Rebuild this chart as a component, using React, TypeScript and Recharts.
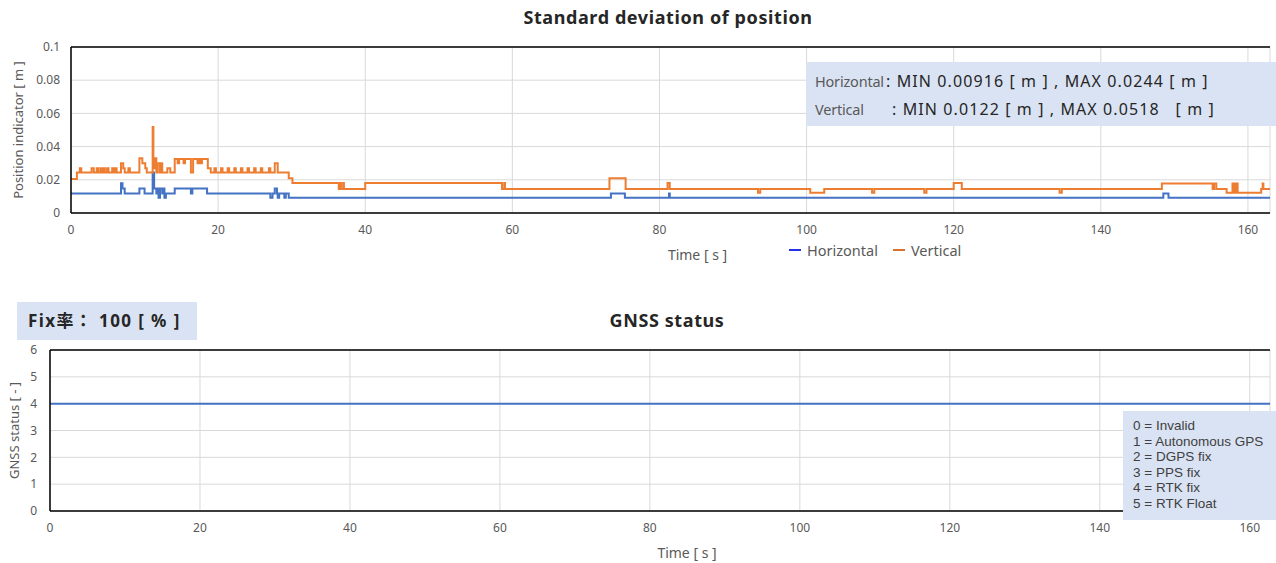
import { CartesianGrid, Line, LineChart, ReferenceLine, XAxis, YAxis } from "recharts";

const FONT = '"Noto Sans", "Noto Sans CJK JP", sans-serif';
const AXIS_TEXT = "#595959";
const GRID = "#d9d9d9";
const FRAME = "#000";
const BLUE = "#4472C4";
const ORANGE = "#ED7D31";
const BOX = "#DAE3F3";

const TIME_TICKS = [0, 20, 40, 60, 80, 100, 120, 140, 160];
const SD_TICKS = [0, 0.02, 0.04, 0.06, 0.08, 0.1];
const STATUS_TICKS = [0, 1, 2, 3, 4, 5, 6];
const STATUS_CODES = [
  "0 = Invalid",
  "1 = Autonomous GPS",
  "2 = DGPS fix",
  "3 = PPS fix",
  "4 = RTK fix",
  "5 = RTK Float",
];
const SERIES_KEYS = [
  { name: "Horizontal", color: "#2233e6" },
  { name: "Vertical", color: "#d9722e" },
];

// [time s, std dev m] — value holds until the next point
const horizontalSteps: [number, number][] = [
  [0, 0.0117], [6.8, 0.0179], [7.0, 0.0147], [7.3, 0.0117], [9.3, 0.0147], [10.0, 0.0117],
  [11.1, 0.0244], [11.3, 0.0147], [11.6, 0.0117], [11.7, 0.0147], [11.9, 0.00916], [12.1, 0.0147],
  [12.4, 0.0117], [12.5, 0.0147], [12.7, 0.00916], [12.9, 0.0117], [14.1, 0.0147], [16.3, 0.0117],
  [16.5, 0.0147], [18.5, 0.0117], [27.1, 0.00916], [27.4, 0.0117], [27.7, 0.0147], [28.0, 0.0117],
  [28.1, 0.00916], [28.3, 0.0117], [29.0, 0.00916], [29.2, 0.0117], [29.6, 0.00916], [73.4, 0.0117],
  [75.3, 0.00916], [81.3, 0.0117], [81.4, 0.00916], [148.5, 0.0117], [149.2, 0.00916], [163, 0.00916],
];

const verticalSteps: [number, number][] = [
  [0, 0.0205], [0.8, 0.0244], [1.2, 0.027], [1.4, 0.0244], [2.8, 0.027], [3.1, 0.0244],
  [3.5, 0.027], [3.7, 0.0244], [4.0, 0.027], [4.2, 0.0244], [4.4, 0.027], [4.6, 0.0244],
  [4.9, 0.027], [5.1, 0.0244], [5.6, 0.027], [5.8, 0.0244], [6.0, 0.027], [6.2, 0.0244],
  [6.8, 0.03], [7.1, 0.027], [7.3, 0.0244], [7.8, 0.027], [8.0, 0.0244], [9.3, 0.033],
  [9.7, 0.03], [10.1, 0.027], [10.3, 0.0244], [11.1, 0.0518], [11.2, 0.027], [11.4, 0.033],
  [11.6, 0.0244], [11.8, 0.03], [12.1, 0.0244], [12.2, 0.03], [12.4, 0.0244], [13.1, 0.027],
  [13.5, 0.0244], [14.1, 0.0325], [14.5, 0.03], [14.7, 0.0325], [15.3, 0.03], [15.5, 0.0325],
  [16.3, 0.0244], [16.6, 0.0325], [17.2, 0.03], [17.4, 0.0325], [17.6, 0.03], [17.8, 0.0325],
  [18.6, 0.027], [19.0, 0.0244], [19.5, 0.027], [19.7, 0.0244], [20.4, 0.027], [20.6, 0.0244],
  [21.3, 0.027], [21.5, 0.0244], [22.2, 0.027], [22.4, 0.0244], [23.1, 0.027], [23.3, 0.0244],
  [24.0, 0.027], [24.2, 0.0244], [24.9, 0.027], [25.1, 0.0244], [25.8, 0.027], [26.0, 0.0244],
  [26.9, 0.027], [27.1, 0.0244], [27.7, 0.03], [28.1, 0.0244], [29.6, 0.0209], [30.1, 0.0181],
  [36.4, 0.0145], [36.6, 0.0181], [36.7, 0.0145], [37.0, 0.0181], [37.1, 0.0145], [40.0, 0.0181],
  [58.6, 0.0145], [58.9, 0.0181], [59.0, 0.0145], [73.2, 0.021], [75.4, 0.0145], [81.1, 0.0181],
  [81.4, 0.0145], [93.4, 0.0122], [93.7, 0.0145], [100.5, 0.0122], [102.4, 0.0145], [108.9, 0.0122],
  [109.2, 0.0145], [116.0, 0.0122], [116.3, 0.0145], [120.0, 0.0181], [121.1, 0.0145], [134.4, 0.0122],
  [134.7, 0.0145], [148.3, 0.0178], [155.2, 0.0145], [155.4, 0.0178], [155.7, 0.0145], [157.1, 0.0122],
  [157.9, 0.0178], [158.0, 0.0122], [158.2, 0.0178], [158.3, 0.0122], [158.5, 0.0178], [158.6, 0.0122],
  [161.8, 0.0145], [162.0, 0.0178], [162.1, 0.0145], [163, 0.0145],
];

const gnssTime = [0, 163];
const gnssStatus = [4, 4];

const toRows = (steps: [number, number][]) => steps.map(([t, v]) => ({ t, v }));
const horizontalData = toRows(horizontalSteps);
const verticalData = toRows(verticalSteps);
const gnssData = gnssTime.map((t, i) => ({ t, v: gnssStatus[i] }));

const tick = { fontSize: 12, fill: AXIS_TEXT, fontFamily: FONT };

const titleStyle = {
  position: "absolute" as const,
  left: 0,
  textAlign: "center" as const,
  fontWeight: 700,
  fontSize: 18,
  letterSpacing: 0.6,
  color: "#262626",
};

export default function App() {
  return (
    <div
      style={{
        position: "absolute",
        left: 0,
        top: 0,
        width: 1276,
        height: 563,
        background: "#fff",
        fontFamily: FONT,
        overflow: "hidden",
      }}
    >
      <div style={{ ...titleStyle, width: 1336, top: 5 }}>Standard deviation of position</div>

      <div style={{ position: "absolute", left: 0, top: 0 }}>
        <LineChart width={1276} height={270} margin={{ top: 47, right: 6, bottom: 27, left: 0 }}>
          <CartesianGrid stroke={GRID} />
          <XAxis
            type="number"
            dataKey="t"
            domain={[0, 163]}
            ticks={TIME_TICKS}
            interval={0}
            allowDataOverflow
            height={30}
            tickLine={false}
            tickMargin={6}
            tick={tick}
            axisLine={{ stroke: FRAME, strokeWidth: 1.5 }}
            label={{
              value: "Time [ s ]",
              position: "insideBottom",
              offset: -17,
              dx: 27,
              fontSize: 14,
              fill: AXIS_TEXT,
            }}
          />
          <YAxis
            type="number"
            domain={[0, 0.1]}
            ticks={SD_TICKS}
            interval={0}
            width={71}
            tickLine={false}
            tickMargin={5}
            tick={tick}
            axisLine={{ stroke: FRAME, strokeWidth: 1.5 }}
            label={{
              value: "Position indicator [ m ]",
              angle: -90,
              position: "insideLeft",
              offset: 18,
              fontSize: 13,
              fill: AXIS_TEXT,
              style: { textAnchor: "middle" },
            }}
          />
          <ReferenceLine y={0.1} stroke={FRAME} strokeWidth={1.5} />
          <Line
            data={horizontalData}
            dataKey="v"
            name="Horizontal"
            type="stepAfter"
            stroke={BLUE}
            strokeWidth={2}
            dot={false}
            isAnimationActive={false}
          />
          <Line
            data={verticalData}
            dataKey="v"
            name="Vertical"
            type="stepAfter"
            stroke={ORANGE}
            strokeWidth={2}
            dot={false}
            isAnimationActive={false}
          />
        </LineChart>
      </div>

      {/* series legend */}
      <div
        style={{
          position: "absolute",
          left: 789,
          top: 240,
          display: "flex",
          gap: 15,
          fontSize: 14.5,
          lineHeight: "20px",
          color: AXIS_TEXT,
        }}
      >
        {SERIES_KEYS.map((it) => (
          <span key={it.name} style={{ display: "flex", alignItems: "center" }}>
            <span style={{ width: 12, height: 2, background: it.color, marginRight: 6 }} />
            {it.name}
          </span>
        ))}
      </div>

      <div
        style={{
          position: "absolute",
          left: 806,
          top: 62,
          width: 470,
          height: 64,
          background: BOX,
          fontSize: 16,
          letterSpacing: 1.1,
          color: "#262626",
          padding: "5px 0 0 9px",
          boxSizing: "border-box",
          lineHeight: "28px",
          whiteSpace: "pre",
        }}
      >
        <div>
          <span
            style={{ color: AXIS_TEXT, display: "inline-block", width: 71, fontSize: 14.5, letterSpacing: -0.2 }}
          >
            Horizontal
          </span>
          {": MIN 0.00916 [ m ] , MAX 0.0244 [ m ]"}
        </div>
        <div>
          <span
            style={{ color: AXIS_TEXT, display: "inline-block", width: 77, fontSize: 14.5, letterSpacing: -0.2 }}
          >
            Vertical
          </span>
          {": MIN 0.0122 [ m ] , MAX 0.0518   [ m ]"}
        </div>
      </div>

      <div
        style={{
          position: "absolute",
          left: 17,
          top: 302,
          width: 180,
          height: 38,
          background: BOX,
          fontWeight: 700,
          fontSize: 17,
          letterSpacing: 1.4,
          color: "#262626",
          lineHeight: "38px",
          paddingLeft: 11,
          boxSizing: "border-box",
          whiteSpace: "pre",
        }}
      >
        Fix率： 100 [ % ]
      </div>

      <div style={{ ...titleStyle, width: 1334, top: 308 }}>GNSS status</div>

      <div style={{ position: "absolute", left: 0, top: 300 }}>
        <LineChart width={1276} height={263} margin={{ top: 50, right: 6, bottom: 22, left: 0 }}>
          <CartesianGrid stroke={GRID} />
          <XAxis
            type="number"
            dataKey="t"
            domain={[0, 162.7]}
            ticks={TIME_TICKS}
            interval={0}
            allowDataOverflow
            height={30}
            tickLine={false}
            tickMargin={6}
            tick={tick}
            axisLine={{ stroke: FRAME, strokeWidth: 1.5 }}
            label={{
              value: "Time [ s ]",
              position: "insideBottom",
              offset: -17,
              dx: 27,
              fontSize: 14,
              fill: AXIS_TEXT,
            }}
          />
          <YAxis
            type="number"
            domain={[0, 6]}
            ticks={STATUS_TICKS}
            interval={0}
            width={50}
            tickLine={false}
            tickMargin={7}
            tick={tick}
            axisLine={{ stroke: FRAME, strokeWidth: 1.5 }}
            label={{
              value: "GNSS status [ - ]",
              angle: -90,
              position: "insideLeft",
              offset: 14,
              fontSize: 13,
              fill: AXIS_TEXT,
              style: { textAnchor: "middle" },
            }}
          />
          <ReferenceLine y={6} stroke={FRAME} strokeWidth={1.5} />
          <Line
            data={gnssData}
            dataKey="v"
            type="linear"
            stroke={BLUE}
            strokeWidth={2}
            dot={false}
            isAnimationActive={false}
          />
        </LineChart>
      </div>

      <div
        style={{
          position: "absolute",
          left: 1123,
          top: 411,
          width: 153,
          height: 109,
          background: BOX,
          fontFamily: '"Liberation Sans", Arial, sans-serif',
          fontSize: 13.5,
          color: "#404040",
          padding: "7px 0 0 10px",
          boxSizing: "border-box",
          lineHeight: "15.6px",
        }}
      >
        {STATUS_CODES.map((s) => (
          <div key={s}>{s}</div>
        ))}
      </div>
    </div>
  );
}
